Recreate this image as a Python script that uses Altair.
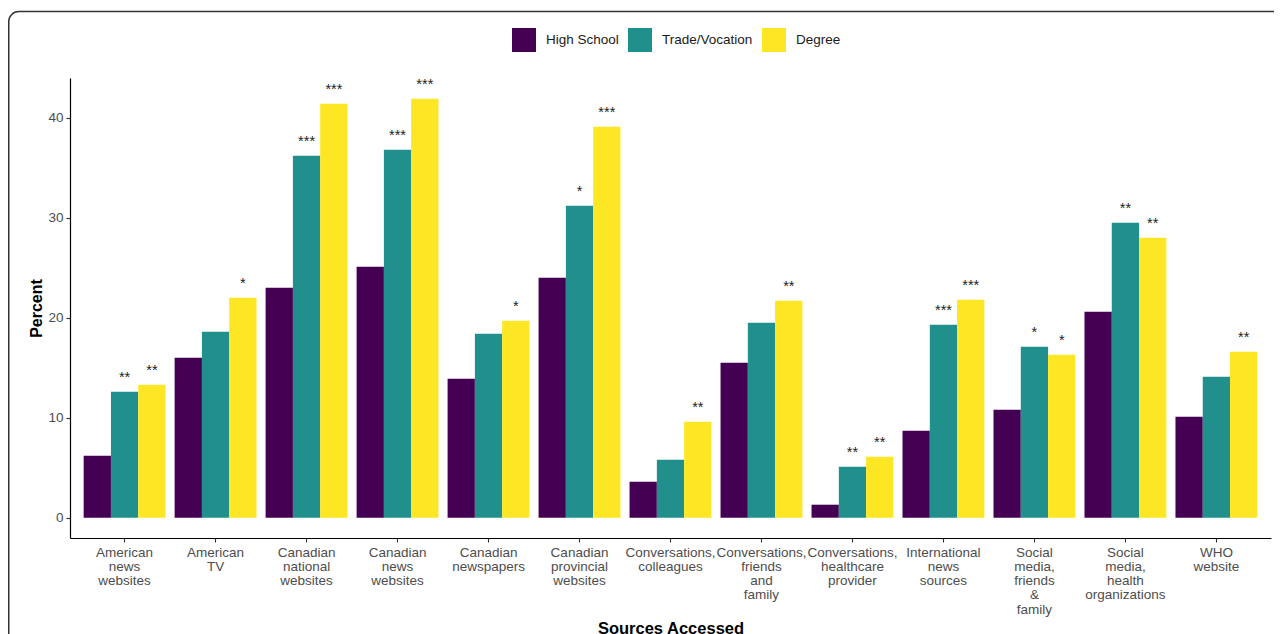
import altair as alt
import pandas as pd

categories = [
    "American\nnews\nwebsites",
    "American\nTV",
    "Canadian\nnational\nwebsites",
    "Canadian\nnews\nwebsites",
    "Canadian\nnewspapers",
    "Canadian\nprovincial\nwebsites",
    "Conversations,\ncolleagues",
    "Conversations,\nfriends\nand\nfamily",
    "Conversations,\nhealthcare\nprovider",
    "International\nnews\nsources",
    "Social\nmedia,\nfriends\n&\nfamily",
    "Social\nmedia,\nhealth\norganizations",
    "WHO\nwebsite",
]
groups = ["High School", "Trade/Vocation", "Degree"]
colors = ["#440154", "#21908C", "#FDE725"]

high_school = [6.2, 16.0, 23.0, 25.1, 13.9, 24.0, 3.6, 15.5, 1.3, 8.7, 10.8, 20.6, 10.1]
trade_vocation = [12.6, 18.6, 36.2, 36.8, 18.4, 31.2, 5.8, 19.5, 5.1, 19.3, 17.1, 29.5, 14.1]
degree = [13.3, 22.0, 41.4, 41.9, 19.7, 39.1, 9.6, 21.7, 6.1, 21.8, 16.3, 28.0, 16.6]

sig_high_school = ["", "", "", "", "", "", "", "", "", "", "", "", ""]
sig_trade_vocation = ["**", "", "***", "***", "", "*", "", "", "**", "***", "*", "**", ""]
sig_degree = ["**", "*", "***", "***", "*", "***", "**", "**", "**", "***", "*", "**", "**"]

rows = []
for g, vals, sigs in zip(groups,
                         [high_school, trade_vocation, degree],
                         [sig_high_school, sig_trade_vocation, sig_degree]):
    for c, v, s in zip(categories, vals, sigs):
        rows.append({"source": c, "group": g, "percent": v, "sig": s})
df = pd.DataFrame(rows)

FONT = "Liberation Sans"

x_enc = alt.X(
    "source:N",
    sort=categories,
    scale=alt.Scale(paddingInner=0.1, paddingOuter=0.15),
    axis=alt.Axis(
        title="Sources Accessed",
        labelExpr="split(datum.label, '\\n')",
        labelAngle=0,
        labelFontSize=13.5,
        labelColor="#4d4d4d",
        labelLineHeight=14.3,
        labelPadding=3,
        tickSize=4,
        titleFontSize=16.5,
        titleFontWeight="bold",
        titleColor="black",
        titleY=95,
        titleBaseline="alphabetic",
    ),
)
y_enc = alt.Y(
    "percent:Q",
    scale=alt.Scale(domain=[-2.03, 43.97], nice=False, zero=False),
    axis=alt.Axis(
        values=[0, 10, 20, 30, 40],
        title="Percent",
        grid=False,
        tickSize=4,
        labelPadding=3,
        labelFontSize=13.5,
        labelColor="#4d4d4d",
        titleFontSize=16,
        titleFontWeight="bold",
        titleColor="black",
        titleX=-29,
        titleY=230,
        titleAngle=270,
        titleAlign="center",
        titleBaseline="alphabetic",
    ),
)
xoff = alt.XOffset("group:N", sort=groups, scale=alt.Scale(paddingInner=0, paddingOuter=0))

bars = alt.Chart(df).mark_bar().encode(
    x=x_enc,
    xOffset=xoff,
    y=y_enc,
    y2=alt.datum(0),
    color=alt.Color(
        "group:N",
        sort=groups,
        scale=alt.Scale(domain=groups, range=colors),
        legend=alt.Legend(
            title=None,
            orient="none",
            legendX=442,
            legendY=-50,
            direction="horizontal",
            symbolType="square",
            symbolSize=576,
            symbolStrokeWidth=0,
            symbolOpacity=1,
            labelFontSize=13.5,
            labelOffset=10,
            columnPadding=9,
            labelColor="#1a1a1a",
            padding=0,
        ),
    ),
)

stars = alt.Chart(df).mark_text(
    baseline="alphabetic", dy=-10, fontSize=14.5, color="#222222"
).encode(
    x=alt.X("source:N", sort=categories),
    xOffset=alt.XOffset("group:N", sort=groups),
    y=alt.Y("percent:Q"),
    text="sig:N",
)

frame = alt.Chart(pd.DataFrame({"f": [0]})).mark_rect(
    fill="transparent", stroke="#333333", strokeWidth=1.5, cornerRadius=10
).encode(
    x=alt.value(-61.25), x2=alt.value(1300), y=alt.value(-66.5), y2=alt.value(700)
)

chart = alt.layer(frame, bars, stars).properties(
    width=1201,
    height=460,
    padding={"left": 62, "top": 70, "right": 3, "bottom": 100},
    autosize=alt.AutoSizeParams(type="none"),
).configure(font=FONT).configure_view(stroke=None).configure_axis(
    domainColor="black", domainWidth=1.2, tickColor="#333333", tickWidth=1.1
)

chart.save("out.html", embed_options={"renderer": "svg", "actions": False})
